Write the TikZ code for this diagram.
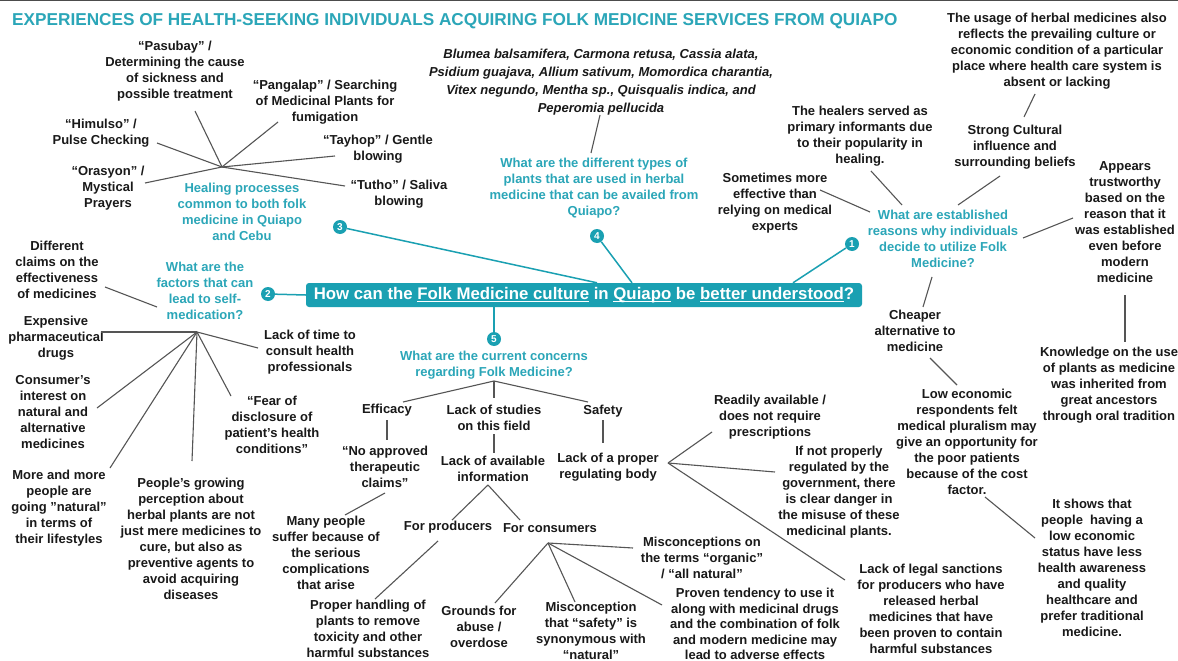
\documentclass[tikz,border=0pt]{standalone}
\usepackage{fontspec}
\setmainfont{Liberation Sans}
\usetikzlibrary{calc}
\definecolor{tealbar}{RGB}{26,160,178}
\definecolor{tealtxt}{RGB}{43,166,184}
\definecolor{lin}{RGB}{85,85,85}
\definecolor{txt}{RGB}{25,25,25}
\newcommand\myul[1]{\setbox0\hbox{#1}\rlap{\rule[-2.4pt]{\wd0}{1.1pt}}\box0\relax}
\begin{document}
\begin{tikzpicture}[x=1pt,y=-1pt,
  lbl/.style={align=center, font=\fontsize{13}{16}\selectfont\bfseries, text=txt, inner sep=1pt},
  qst/.style={lbl, text=tealtxt},
  gl/.style={draw=lin, line width=1.1pt},
  tl/.style={draw=tealbar, line width=1.5pt},
  num/.style={circle, fill=tealbar, minimum size=14pt, inner sep=0pt, text=white, font=\fontsize{10}{10}\selectfont\bfseries}]
\useasboundingbox (0,0) rectangle (1178,661);
\fill[white] (0,0) rectangle (1178,661);
\fill[black!70] (0,0) rectangle (1178,1.2);

% title
\node[anchor=west, text=tealtxt, font=\fontsize{17.2}{20}\selectfont\bfseries, inner sep=0pt] (title) at (12,21) {EXPERIENCES OF HEALTH-SEEKING INDIVIDUALS ACQUIRING FOLK MEDICINE SERVICES FROM QUIAPO};

% central bar
\node[fill=tealbar, rounded corners=3pt, minimum width=556pt, minimum height=24pt, inner sep=0pt, text=white, font=\fontsize{16.8}{18}\selectfont\bfseries] (bar) at (584,295) {How can the \myul{Folk Medicine culture} in \myul{Quiapo} be \myul{better understood}?};

% number circles
\node[num] (c1) at (852,244) {1};
\node[num] (c2) at (268,294) {2};
\node[num] (c3) at (340,227) {3};
\node[num] (c4) at (597,236) {4};
\node[num] (c5) at (494,339) {5};
\draw[tl] (c1) -- ([xshift=209pt]bar.north);
\draw[tl] (c2) -- (bar.west);
\draw[tl] (c3) -- ([xshift=13pt]bar.north);
\draw[tl] (c4) -- ([xshift=48pt]bar.north);
\draw[tl] ([xshift=-90pt]bar.south) -- (c5);

% ---------- group 3 ----------
\node[lbl] (pasubay) at (175,71) {“Pasubay” /\\Determining the cause\\of sickness and\\possible treatment};
\node[lbl] (pangalap) at (325,102) {“Pangalap” / Searching\\of Medicinal Plants for\\fumigation};
\node[lbl] (himulso) at (101,133) {“Himulso” /\\Pulse Checking};
\node[lbl] (tayhop) at (378,149) {“Tayhop” / Gentle\\blowing};
\node[lbl] (orasyon) at (108,188) {“Orasyon” /\\Mystical\\Prayers};
\node[lbl] (tutho) at (399,194) {“Tutho” / Saliva\\blowing};
\node[qst] (healing) at (242,212) {Healing processes\\common to both folk\\medicine in Quiapo\\and Cebu};
\coordinate (hub3) at (222,167);
\draw[gl] (hub3) -- ([shift={(20,40)}]pasubay.center);
\draw[gl] (hub3) -- ([shift={(-47,20)}]pangalap.center);
\draw[gl] (hub3) -- ([shift={(56,10)}]himulso.center);
\draw[gl] (hub3) -- ([shift={(-43,7)}]tayhop.center);
\draw[gl] (hub3) -- ([shift={(37,-5)}]orasyon.center);
\draw[gl] (hub3) -- ([shift={(-54,-8)}]tutho.center);

% ---------- group 4 ----------
\node[lbl, font=\fontsize{13}{18}\selectfont\bfseries\itshape] (species) at (601,82) {Blumea balsamifera, Carmona retusa, Cassia alata,\\Psidium guajava, Allium sativum, Momordica charantia,\\Vitex negundo, Mentha sp., Quisqualis indica, and\\Peperomia pellucida};
\node[qst] (q4) at (594,188) {What are the different types of\\plants that are used in herbal\\medicine that can be availed from\\Quiapo?};
\draw[gl] ([shift={(-1,33)}]species.center) -- ([shift={(-3,-35)}]q4.center);

% ---------- group 1 ----------
\node[qst] (q1) at (943,239) {What are established\\reasons why individuals\\decide to utilize Folk\\Medicine?};
\node[lbl] (sometimes) at (775,203) {Sometimes more\\effective than\\relying on medical\\experts};
\node[lbl] (healers) at (860,136) {The healers served as\\primary informants due\\to their popularity in\\healing.};
\node[lbl] (strong) at (1015,147) {Strong Cultural\\influence and\\surrounding beliefs};
\node[lbl] (usage) at (1057,51) {The usage of herbal medicines also\\reflects the prevailing culture or\\economic condition of a particular\\place where health care system is\\absent or lacking};
\node[lbl] (appears) at (1125,222) {Appears\\trustworthy\\based on the\\reason that it\\was established\\even before\\modern\\medicine};
\node[lbl] (knowledge) at (1109,385) {Knowledge on the use\\of plants as medicine\\was inherited from\\great ancestors\\through oral tradition};
\node[lbl] (cheaper) at (915,331) {Cheaper\\alternative to\\medicine};
\node[lbl] (lowecon) at (967,442) {Low economic\\respondents felt\\medical pluralism may\\give an opportunity for\\the poor patients\\because of the cost\\factor.};
\node[lbl] (itshows) at (1092,568) {It shows that\\people\ \ having a\\low economic\\status have less\\health awareness\\and quality\\healthcare and\\prefer traditional\\medicine.};
\draw[gl] ([shift={(45,-13)}]sometimes.center) -- ([shift={(-73,-27)}]q1.center);
\draw[gl] ([shift={(11,35)}]healers.center) -- ([shift={(-41,-34)}]q1.center);
\draw[gl] ([shift={(-15,29)}]strong.center) -- ([shift={(15,-34)}]q1.center);
\draw[gl] ([shift={(-22,43)}]usage.center) -- ([shift={(9,-30)}]strong.center);
\draw[gl] ([shift={(-52,-4)}]appears.center) -- ([shift={(80,-1)}]q1.center);
\draw[gl] ([shift={(0,73)}]appears.center) -- ([shift={(16,-43)}]knowledge.center);
\draw[gl] ([shift={(-11,38)}]q1.center) -- ([shift={(8,-24)}]cheaper.center);
\draw[gl] ([shift={(15,27)}]cheaper.center) -- ([shift={(-10,-57)}]lowecon.center);
\draw[gl] ([shift={(18,55)}]lowecon.center) -- ([shift={(-57,-30)}]itshows.center);

% ---------- group 2 ----------
\node[qst] (factors) at (205,291) {What are the\\factors that can\\lead to self-\\medication?};
\node[lbl] (diff) at (57,270) {Different\\claims on the\\effectiveness\\of medicines};
\node[lbl] (expensive) at (56,338) {Expensive\\pharmaceutical\\drugs};
\node[lbl] (lacktime) at (310,352) {Lack of time to\\consult health\\professionals};
\node[lbl] (consumer) at (53,412) {Consumer’s\\interest on\\natural and\\alternative\\medicines};
\node[lbl] (fear) at (272,425) {“Fear of\\disclosure of\\patient’s health\\conditions”};
\node[lbl] (moreandmore) at (59,508) {More and more\\people are\\going "natural"\\in terms of\\their lifestyles};
\node[lbl] (peoples) at (191,539) {People’s growing\\perception about\\herbal plants are not\\just mere medicines to\\cure, but also as\\preventive agents to\\avoid acquiring\\diseases};
\coordinate (hub2) at (197,332);
\draw[gl] ([shift={(48,17)}]diff.center) -- ([shift={(-48,16)}]factors.center);
\draw[gl] (hub2) -- ([shift={(45,-6)}]expensive.center);
\draw[gl] (hub2) -- ([shift={(-52,-4)}]lacktime.center);
\draw[gl] (hub2) -- ([shift={(-41,-29)}]fear.center);
\draw[gl] (hub2) -- ([shift={(44,-4)}]consumer.center);
\draw[gl] (hub2) -- ([shift={(51,-40)}]moreandmore.center);
\draw[gl] (hub2) -- ([shift={(1,-78)}]peoples.center);

% ---------- group 5 ----------
\node[qst] (q5) at (494,365) {What are the current concerns\\regarding Folk Medicine?};
\node[lbl] (efficacy) at (387,410) {Efficacy};
\node[lbl] (studies) at (494,418) {Lack of studies\\on this field};
\node[lbl] (safety) at (603,411) {Safety};
\node[lbl] (noapproved) at (385,467) {“No approved\\therapeutic\\claims”};
\node[lbl] (lackinfo) at (493,469) {Lack of available\\information};
\node[lbl] (lackreg) at (608,467) {Lack of a proper\\regulating body};
\node[lbl] (producers) at (448,527) {For producers};
\node[lbl] (consumers) at (550,528) {For consumers};
\node[lbl] (many) at (326,553) {Many people\\suffer because of\\the serious\\complications\\that arise};
\node[lbl] (proper) at (368,629) {Proper handling of\\plants to remove\\toxicity and other\\harmful substances};
\node[lbl] (misc1) at (702,558) {Misconceptions on\\the terms “organic”\\/ “all natural”};
\node[lbl] (grounds) at (479,627) {Grounds for\\abuse /\\overdose};
\node[lbl] (misc2) at (591,631) {Misconception\\that “safety” is\\synonymous with\\“natural”};
\node[lbl, font=\fontsize{13}{15.5}\selectfont\bfseries] (proven) at (755,624) {Proven tendency to use it\\along with medicinal drugs\\and the combination of folk\\and modern medicine may\\lead to adverse effects};
\node[lbl] (readily) at (770,417) {Readily available /\\does not require\\prescriptions};
\node[lbl] (ifnot) at (839,492) {If not properly\\regulated by the\\government, there\\is clear danger in\\the misuse of these\\medicinal plants.};
\node[lbl] (legal) at (931,609) {Lack of legal sanctions\\for producers who have\\released herbal\\medicines that have\\been proven to contain\\harmful substances};
\coordinate (hub5) at (494,381);
\coordinate (hubc) at (548,543);
\coordinate (hubr) at (668,463);
\draw[gl] (hub5) -- ([shift={(16,-8)}]efficacy.center);
\draw[gl] (hub5) -- ([shift={(0,-20)}]studies.center);
\draw[gl] (hub5) -- ([shift={(-15,-9)}]safety.center);
\draw[gl] ([shift={(0,10)}]efficacy.center) -- ([shift={(2,-27)}]noapproved.center);
\draw[gl] ([shift={(0,16)}]studies.center) -- ([shift={(1,-16)}]lackinfo.center);
\draw[gl] ([shift={(0,9)}]safety.center) -- ([shift={(-5,-24)}]lackreg.center);
\draw[gl] ([shift={(-5,16)}]lackinfo.center) -- ([shift={(4,-7)}]producers.center);
\draw[gl] ([shift={(-5,16)}]lackinfo.center) -- ([shift={(-30,-8)}]consumers.center);
\draw[gl] ([shift={(0,26)}]noapproved.center) -- ([shift={(19,-38)}]many.center);
\draw[gl] ([shift={(-10,14)}]producers.center) -- ([shift={(7,-30)}]proper.center);
\draw[gl] (hubc) -- ([shift={(-69,-10)}]misc1.center);
\draw[gl] (hubc) -- ([shift={(16,-24)}]grounds.center);
\draw[gl] (hubc) -- ([shift={(-16,-29)}]misc2.center);
\draw[gl] (hubc) -- ([shift={(-93,-19)}]proven.center);
\draw[gl] (hubr) -- ([shift={(-58,15)}]readily.center);
\draw[gl] (hubr) -- ([shift={(-64,-20)}]ifnot.center);
\draw[gl] (hubr) -- ([shift={(-86,-29)}]legal.center);
\end{tikzpicture}
\end{document}
